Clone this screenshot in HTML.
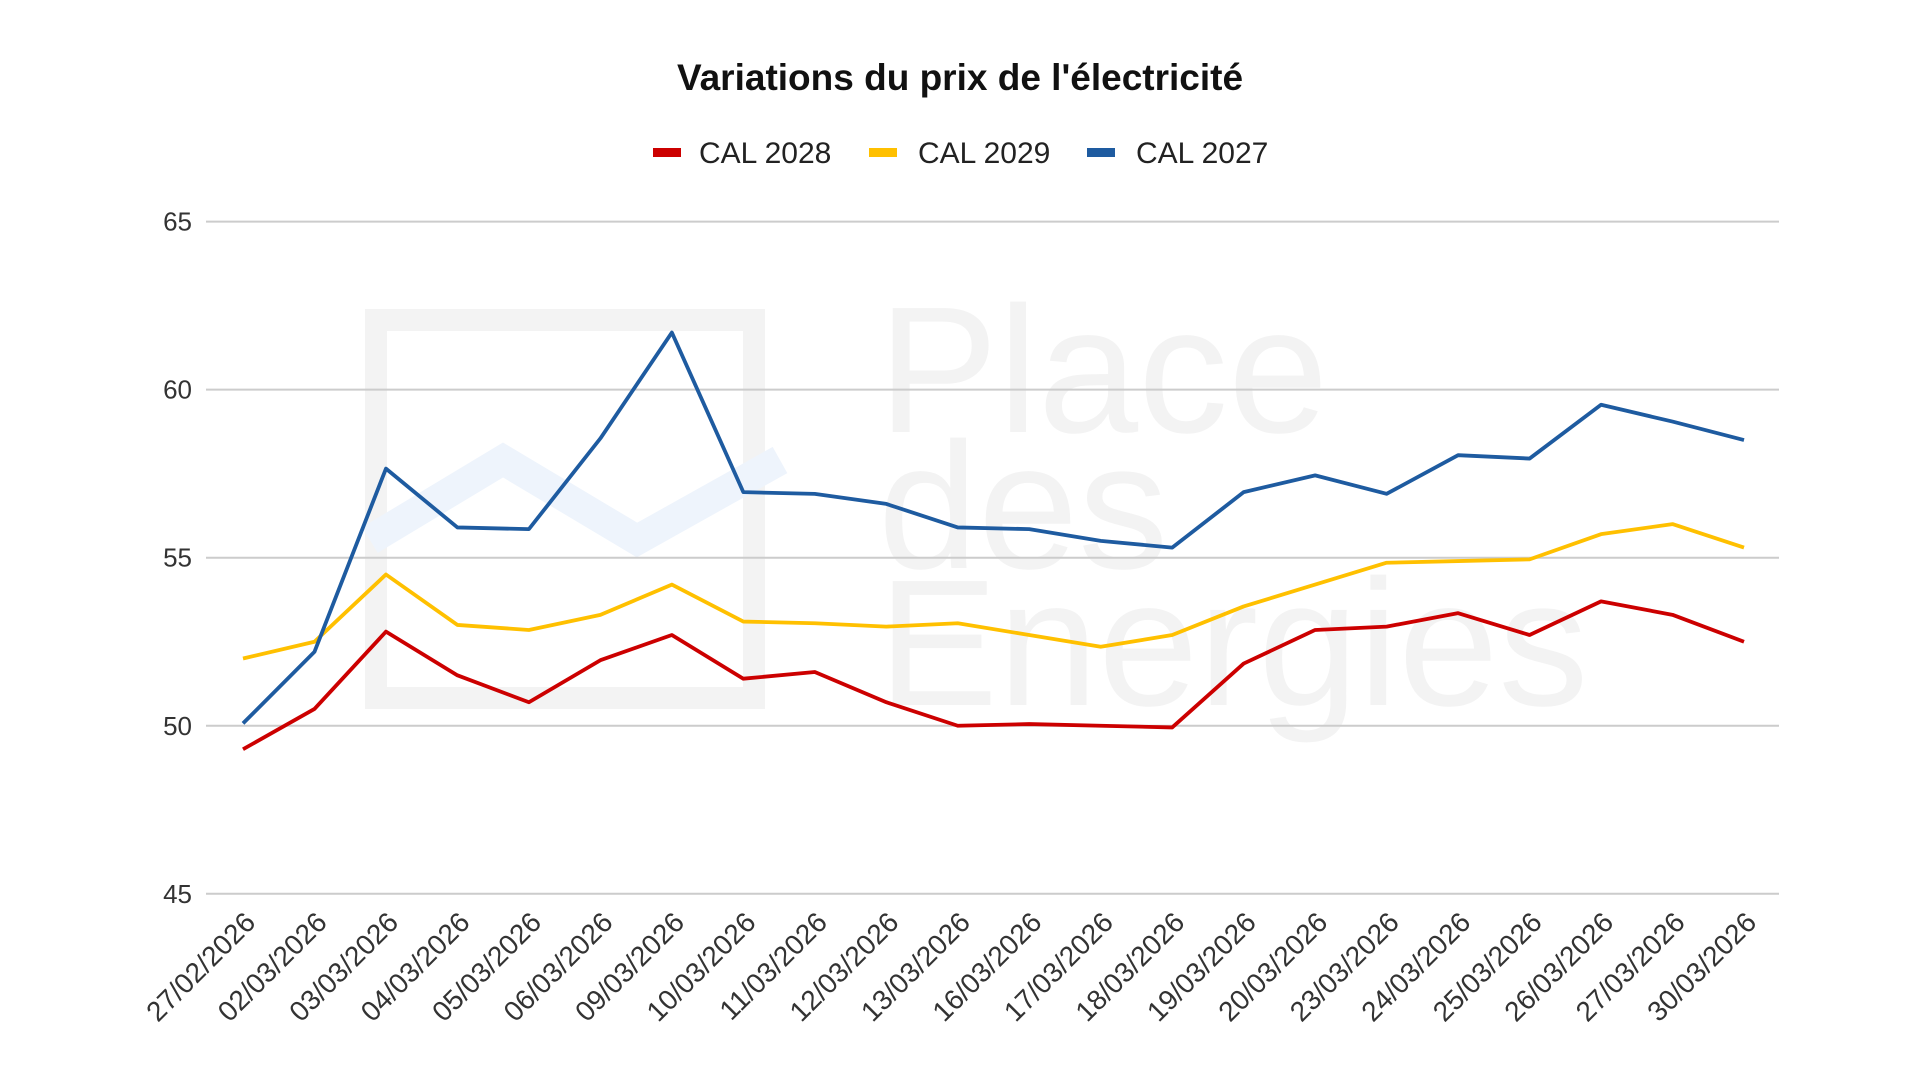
<!DOCTYPE html>
<html><head><meta charset="utf-8"><style>
html,body{margin:0;padding:0;background:#fff;}
svg{display:block;font-family:"Liberation Sans",Arial,sans-serif;}
</style></head><body>
<svg id="chart" width="1920" height="1080" viewBox="0 0 1920 1080" xmlns="http://www.w3.org/2000/svg">
<g>
  <rect x="376" y="320" width="378" height="378" fill="none" stroke="#f3f3f3" stroke-width="22"/>
  <polyline points="370,540 503,460 637,540 780,460" fill="none" stroke="#eef4fc" stroke-width="30"/>
  <text x="878" y="432" font-size="180" fill="#f3f3f3">Place</text>
  <text x="878" y="568" font-size="180" fill="#f3f3f3">des</text>
  <text x="878" y="705" font-size="180" fill="#f3f3f3">Energies</text>
</g>
<text x="960" y="90" text-anchor="middle" font-size="37" font-weight="bold" fill="#111">Variations du prix de l'électricité</text>
<g>
  <g><rect x="653" y="148" width="28" height="9" fill="#cc0000"/><text x="699" y="163" font-size="30" fill="#222">CAL 2028</text></g>
  <g><rect x="869" y="148" width="28" height="9" fill="#ffc000"/><text x="918" y="163" font-size="30" fill="#222">CAL 2029</text></g>
  <g><rect x="1087" y="148" width="28" height="9" fill="#1e5ba0"/><text x="1136" y="163" font-size="30" fill="#222">CAL 2027</text></g>
</g>
<g id="grid"></g>
<g id="series"></g>
<g id="xlabels"></g>
</svg>
<script>
const categories = ["27/02/2026","02/03/2026","03/03/2026","04/03/2026","05/03/2026","06/03/2026","09/03/2026","10/03/2026","11/03/2026","12/03/2026","13/03/2026","16/03/2026","17/03/2026","18/03/2026","19/03/2026","20/03/2026","23/03/2026","24/03/2026","25/03/2026","26/03/2026","27/03/2026","30/03/2026"];
const cal2028 = [49.3,50.5,52.8,51.5,50.7,51.95,52.7,51.4,51.6,50.7,50.0,50.05,50.0,49.95,51.85,52.85,52.95,53.35,52.7,53.7,53.3,52.5];
const cal2029 = [52.0,52.5,54.5,53.0,52.85,53.3,54.2,53.1,53.05,52.95,53.05,52.7,52.35,52.7,53.55,54.2,54.85,54.9,54.95,55.7,56.0,55.3];
const cal2027 = [50.07,52.2,57.65,55.9,55.85,58.55,61.7,56.95,56.9,56.6,55.9,55.85,55.5,55.3,56.95,57.45,56.9,58.05,57.95,59.55,59.05,58.5];
const yTicks = [45,50,55,60,65];
const seriesNames = ["cal-2028","cal-2029","cal-2027"];
const seriesColors = ["#cc0000","#ffc000","#1e5ba0"];

const NS="http://www.w3.org/2000/svg";
const x0=243, x1=1744, yTop=221.6, yBot=893.8, gl=206, gr=1779;
function xScale(i){return x0+(x1-x0)*i/(categories.length-1);}
function yScale(v){return yBot-(v-45)/(65-45)*(yBot-yTop);}
const grid=document.getElementById('grid');
yTicks.forEach(t=>{
  const l=document.createElementNS(NS,'line');
  l.setAttribute('x1',gl);l.setAttribute('x2',gr);
  l.setAttribute('y1',yScale(t));l.setAttribute('y2',yScale(t));
  l.setAttribute('stroke','#cccccc');l.setAttribute('stroke-width','2');
  
  
  grid.appendChild(l);
  const tx=document.createElementNS(NS,'text');
  tx.setAttribute('x',192);tx.setAttribute('y',yScale(t)+9);
  tx.setAttribute('text-anchor','end');tx.setAttribute('font-size','26');tx.setAttribute('fill','#333');
  tx.textContent=t;
  
  
  grid.appendChild(tx);
});
const sg=document.getElementById('series');
[cal2028,cal2029,cal2027].forEach((arr,k)=>{
  const p=document.createElementNS(NS,'polyline');
  p.setAttribute('points',arr.map((v,i)=>xScale(i)+','+yScale(v)).join(' '));
  p.setAttribute('fill','none');p.setAttribute('stroke',seriesColors[k]);
  p.setAttribute('stroke-width','3.8');p.setAttribute('stroke-linejoin','round');
  
  
  sg.appendChild(p);
});
const xl=document.getElementById('xlabels');
categories.forEach((c,i)=>{
  const t=document.createElementNS(NS,'text');
  const x=xScale(i)+14, y=924;
  t.setAttribute('x',x);t.setAttribute('y',y);
  t.setAttribute('text-anchor','end');t.setAttribute('font-size','28');t.setAttribute('fill','#333');
  t.setAttribute('transform','rotate(-45 '+x+' '+y+')');
  t.textContent=c;
  
  
  xl.appendChild(t);
});
</script>
</body></html>
